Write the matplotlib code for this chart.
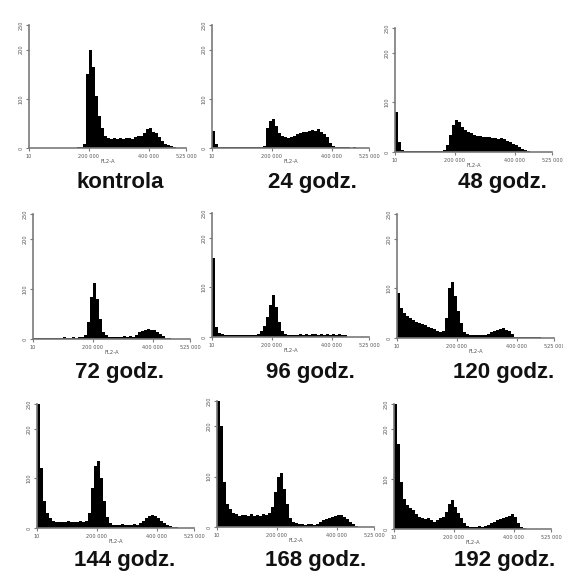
import numpy as np
import matplotlib
matplotlib.use("Agg")
import matplotlib.pyplot as plt

# histogram counts, bins of 10 000 starting at 0 (FL2-A)
kontrola = [0, 0, 0, 0, 0, 0, 0, 0, 0, 0, 0, 0, 1, 1, 1, 1, 2, 3, 8, 150,
            200, 165, 105, 65, 40, 25, 20, 18, 20, 19, 20, 18, 20, 21, 19, 22,
            24, 25, 30, 38, 40, 33, 30, 22, 14, 9, 6, 4, 2, 1]
h24 = [35, 8, 2, 2, 2, 3, 2, 2, 3, 2, 2, 3, 2, 2, 3, 2, 2, 5, 40, 55,
       58, 45, 30, 25, 22, 20, 22, 25, 28, 30, 32, 33, 35, 37, 34, 38,
       33, 28, 22, 10, 4, 2, 2, 2, 2, 2, 1, 2, 1]
h48 = [80, 20, 4, 2, 2, 2, 3, 2, 2, 2, 3, 2, 2, 2, 3, 2, 4, 15, 35, 55,
       65, 60, 50, 45, 40, 38, 35, 33, 32, 30, 31, 30, 28, 29, 27, 28,
       26, 22, 20, 17, 14, 10, 7, 5, 3, 1]
h72 = [2, 2, 3, 2, 3, 2, 3, 3, 2, 3, 4, 3, 3, 4, 3, 4, 4, 8, 35, 85,
       112, 80, 40, 15, 8, 5, 4, 5, 4, 5, 6, 5, 6, 5, 8, 14,
       17, 19, 20, 19, 18, 15, 10, 6, 3, 2, 1]
h96 = [160, 20, 8, 6, 5, 4, 5, 4, 5, 4, 5, 4, 5, 4, 5, 6, 12, 22, 40, 65,
       85, 60, 30, 12, 6, 4, 4, 4, 5, 6, 5, 6, 5, 6, 6, 5,
       6, 5, 6, 5, 6, 5, 6, 5, 5]
h120 = [90, 60, 50, 45, 40, 36, 33, 30, 28, 26, 22, 20, 18, 15, 12, 14, 40, 100, 112, 85,
        55, 30, 12, 8, 7, 6, 6, 6, 6, 6, 8, 12, 15, 17, 18, 20,
        17, 14, 8, 3, 2, 2, 2, 2, 2, 2, 2, 2]
h144 = [250, 120, 55, 30, 20, 15, 13, 12, 13, 12, 14, 12, 13, 12, 14, 13, 15, 30, 80, 125,
        135, 100, 55, 22, 10, 7, 7, 6, 8, 7, 6, 7, 8, 7, 10, 15,
        20, 25, 27, 24, 20, 15, 10, 7, 5, 3, 2, 1]
h168 = [250, 200, 90, 45, 35, 28, 25, 22, 24, 23, 22, 25, 22, 24, 22, 25, 23, 28, 40, 70,
        100, 108, 75, 45, 18, 10, 8, 6, 5, 4, 5, 6, 4, 5, 10, 14,
        16, 18, 20, 22, 24, 23, 20, 15, 10, 5, 2]
h192 = [250, 170, 95, 60, 48, 42, 38, 30, 25, 22, 20, 22, 18, 15, 18, 22, 25, 35, 50, 58,
        45, 32, 22, 12, 6, 4, 5, 4, 6, 5, 6, 8, 12, 15, 18, 20,
        22, 24, 27, 30, 25, 12, 5, 2, 1]

labels = ["kontrola", "24 godz.", "48 godz.", "72 godz.", "96 godz.",
          "120 godz.", "144 godz.", "168 godz.", "192 godz."]
series = [kontrola, h24, h48, h72, h96, h120, h144, h168, h192]
xticks = [10, 200000, 400000, 525000]
xticklabels = ["10", "200 000", "400 000", "525 000"]
yticks = [0, 100, 200, 250]

W, H = 563, 571
# left px (x=0), y px of 0, y px of 250, label centre x, label baseline y
layout = [
    (29, 148, 25, 120, 188),
    (212, 148, 25, 312, 188),
    (395, 152, 28, 502, 188),
    (33, 339, 214, 120, 378),
    (212, 337, 213, 310, 378),
    (397, 338, 214, 504, 378),
    (37, 528, 404, 125, 566),
    (217, 527, 401, 316, 566),
    (394, 529, 404, 505, 566),
]

fig = plt.figure(figsize=(W / 100, H / 100), dpi=100)
gray = "#7a7a7a"
for vals, lab, (lx, y0, y1, tx, ty) in zip(series, labels, layout):
    ax = fig.add_axes([lx / W, (H - y0) / H, 157 / W, (y0 - y1) / H])
    edges = np.arange(len(vals)) * 10000
    ax.bar(edges, vals, width=10000, align="edge", color="black", linewidth=0)
    ax.set_xlim(0, 525000)
    ax.set_ylim(0, 250)
    for s in ["top", "right"]:
        ax.spines[s].set_visible(False)
    for s in ["left", "bottom"]:
        ax.spines[s].set_color(gray)
        ax.spines[s].set_linewidth(1.2)
        ax.spines[s].set_zorder(5)
    ax.set_xticks(xticks)
    ax.set_xticklabels(xticklabels)
    ax.set_yticks(yticks)
    ax.set_yticklabels([str(t) for t in yticks], rotation=90, va="center")
    ax.tick_params(colors=gray, labelcolor="#555555", labelsize=3.6,
                   length=2.5, width=0.8, pad=1.5)
    ax.set_xlabel("FL2-A", fontsize=3.8, color="#555555", labelpad=0.5)
    ax.patch.set_visible(False)
    fig.text(tx / W, (H - ty) / H, lab, ha="center", va="baseline",
             fontsize=16, fontweight="bold", family="Liberation Sans",
             color="#111111")

fig.savefig("out.png", dpi=100)
